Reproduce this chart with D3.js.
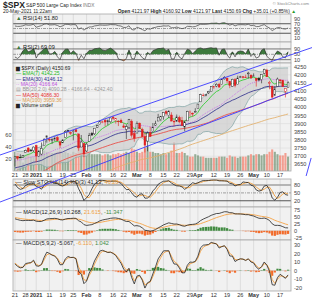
<!DOCTYPE html>
<html>
<head>
<meta charset="utf-8">
<script src="https://cdn.jsdelivr.net/npm/d3@7"></script>
<style>
  body { margin: 0; background: #fff; }
  svg { display: block; font-family: "Liberation Sans", Arial, sans-serif; }
</style>
</head>
<body>
<div id="chart"></div>
<script>
// closes before the visible window (used only to warm up the indicators)
const warmClose = [3258,3246,3271,
  3295,3306,3327,3349,3351,3360,3333,3380,3373,3372,3381,3389,3374,3385,3397,3431,3443,3479,3484,3508,3500,
  3527,3580,3455,3427,3332,3399,3339,3341,3383,3401,3385,3357,3320,3281,3316,3237,3247,3298,3351,3335,3363,
  3380,3348,3408,3361,3419,3446,3477,3535,3512,3489,3483,3484,3427,3443,3436,3453,3465,3401,3391,3271,3310,3270,
  3310,3370,3443,3510,3509,3550,3545,3573,3537,3585,3627,3610,3567,3582,3557,3578,3635,3629,3638,3622,
  3662,3669,3666,3699,3692,3702,3673,3668,3663,3647,3695,3702,3722,3709];

// visible daily bars, 21-Dec-2020 .. 20-May-2021
const open = [3684,3698,3693,3694,3723,3750,3736,3734,
  3765,3699,3713,3764,3815,3803,3801,3802,3814,3788,3782,3816,3857,3845,3851,3862,3837,3756,3778,
  3732,3791,3840,3837,3878,3893,3911,3920,3917,3911,3940,3919,3915,3921,3886,3865,3874,3915,3839,
  3842,3903,3864,3819,3793,3844,3851,3891,3916,3925,3943,3974,3949,3953,3914,3916,3937,3919,3879,3917,3970,3964,3967,
  3993,4034,4075,4074,4089,4096,4124,4131,4142,4140,4175,4180,4160,4129,4170,4139,4185,4188,4186,4206,4199,
  4192,4179,4178,4170,4210,4229,4151,4130,4075,4130,4169,4165,4099,4122];
const high = [3702,3698,3712,3703,3740,3756,3744,3760,
  3770,3738,3784,3811,3826,3817,3810,3820,3823,3796,3805,3860,3861,3852,3860,3871,3837,3830,3779,
  3785,3843,3848,3872,3894,3916,3918,3931,3925,3937,3950,3933,3921,3931,3902,3895,3929,3926,3862,
  3914,3906,3875,3843,3852,3881,3904,3918,3960,3944,3970,3982,3983,3970,3922,3956,3949,3942,3919,3979,3981,3969,3995,
  4021,4084,4086,4083,4098,4129,4131,4148,4151,4173,4192,4181,4160,4176,4180,4195,4194,4193,4201,4219,4199,
  4209,4179,4187,4202,4238,4237,4163,4134,4131,4183,4171,4170,4117,4161];
const low = [3636,3676,3689,3690,3723,3723,3730,3726,
  3663,3697,3706,3764,3783,3789,3776,3792,3792,3750,3781,3816,3845,3831,3797,3847,3733,3756,3694,
  3726,3791,3825,3830,3874,3892,3903,3884,3891,3905,3923,3900,3885,3904,3874,3805,3866,3814,3789,
  3842,3867,3818,3723,3730,3819,3851,3886,3916,3915,3924,3950,3935,3914,3885,3910,3902,3889,3853,3917,3943,3944,3966,
  3993,4034,4068,4068,4082,4095,4114,4124,4120,4140,4171,4150,4118,4126,4123,4139,4182,4177,4181,4176,4175,
  4188,4128,4160,4148,4202,4189,4111,4057,4069,4130,4143,4125,4061,4122];
const close = [3695,3687,3690,3703,3735,3727,3732,3756,
  3701,3727,3748,3804,3825,3800,3801,3810,3795,3768,3799,3852,3853,3841,3855,3850,3751,3787,3714,
  3774,3826,3830,3872,3887,3916,3911,3910,3916,3935,3933,3931,3914,3907,3877,3881,3925,3829,3811,
  3902,3870,3820,3768,3842,3821,3875,3899,3939,3943,3969,3963,3974,3916,3913,3941,3911,3889,3910,3975,3971,3959,3973,
  4020,4078,4074,4080,4097,4129,4128,4142,4125,4170,4185,4163,4135,4173,4135,4180,4188,4187,4183,4211,4181,
  4193,4165,4168,4202,4233,4188,4152,4063,4113,4174,4163,4128,4116,4151];
const volume = [32,30,26,14,26,28,24,24,
  32,28,34,34,32,30,30,30,32,34,30,32,30,28,32,30,40,36,38,
  34,30,28,28,28,28,26,28,28,26,28,28,30,28,30,32,30,38,36,
  32,30,32,38,42,32,32,30,30,28,30,28,30,34,48,30,30,32,30,26,24,24,28,
  26,24,24,22,22,22,22,22,24,24,24,22,26,24,24,22,24,24,24,26,28,
  26,28,28,26,28,28,32,36,32,28,26,26,30,24];

// x axis: bar index of each labelled Monday
const tickDays = [0,4,8,13,18,22,27,32,37,41,46,51,56,61,66,69,75,80,85,90,95,100];
const tickLabels = ["21","28","2021","11","19","25","Feb","8","16","22","Mar","8","15","22","29","Apr","12","19","26","May","10","17"];
const boldLabels = ["2021","Feb","Mar","Apr","May"];

const priceTicks = [4250,4200,4150,4100,4050,4000,3950,3900,3850,3800,3750,3700,3650];
const volTicks = [20,40,60];

// trend lines drawn on the price chart, in (bar index, price)
const trendLines = [
  {i0: -5.66, p0: 3707, i1: 112.1, p1: 4368},
  {i0: -5.66, p0: 3418, i1: 112.1, p1: 4145},
  {i0: 109.8, p0: 3578, i1: 111.7, p1: 3689}
];

const W = 312, H = 300;
const svg = d3.select("#chart").append("svg").attr("width", W).attr("height", H);

const X0 = 13, X1 = 291;
const x = d3.scaleLinear().domain([-0.75, 104.1]).range([X0, X1]);

// ---- indicators ----
const allClose = warmClose.concat(close);
const allHigh = warmClose.concat(high);
const allLow = warmClose.concat(low);
const off = warmClose.length;

function ema(arr, n) {
  const k = 2 / (n + 1);
  let e = arr[0];
  return arr.map((v, i) => (e = i === 0 ? v : v * k + e * (1 - k)));
}
function sma(arr, n) {
  return arr.map((v, i) => i < n - 1 ? null : d3.mean(arr.slice(i - n + 1, i + 1)));
}
function stdev(arr, n) {
  return arr.map((v, i) => {
    if (i < n - 1) return null;
    const s = arr.slice(i - n + 1, i + 1), m = d3.mean(s);
    return Math.sqrt(d3.mean(s, d => (d - m) * (d - m)));
  });
}
function rsi(arr, n) {
  let ag = 0, al = 0;
  return arr.map((v, i) => {
    if (i === 0) return 50;
    const ch = v - arr[i - 1];
    const g = Math.max(ch, 0), l = Math.max(-ch, 0);
    if (i <= n) { ag += g / n; al += l / n; }
    else { ag = (ag * (n - 1) + g) / n; al = (al * (n - 1) + l) / n; }
    return al === 0 ? 100 : 100 - 100 / (1 + ag / al);
  });
}
const vis = a => a.slice(off);

const ema7 = vis(ema(allClose, 7));
const ema30 = vis(ema(allClose, 30));
const ma20all = sma(allClose, 20), sd20 = stdev(allClose, 20);
const ma20 = vis(ma20all);
const bbUp = vis(ma20all.map((m, i) => m + 2 * sd20[i]));
const bbLo = vis(ma20all.map((m, i) => m - 2 * sd20[i]));
const ma50 = vis(sma(allClose, 50));
const ma100 = vis(sma(allClose, 100));
const rsi14 = vis(rsi(allClose, 14));
const rsi2 = vis(rsi(allClose, 2));

const rawK = allClose.map((c, i) => {
  const lo = d3.min(allLow.slice(Math.max(0, i - 13), i + 1));
  const hi = d3.max(allHigh.slice(Math.max(0, i - 13), i + 1));
  return hi === lo ? 50 : (c - lo) / (hi - lo) * 100;
});
const slowK = sma(rawK, 3);
const slowD = sma(slowK.map(v => v ?? 50), 3);
const stoK = vis(slowK), stoD = vis(slowD);

function macd(arr, a, b, s) {
  const ea = ema(arr, a), eb = ema(arr, b);
  const m = ea.map((v, i) => v - eb[i]);
  const sg = ema(m, s);
  return {m: vis(m), s: vis(sg), h: vis(m.map((v, i) => v - sg[i]))};
}
const macdA = macd(allClose, 12, 26, 9);
const macdB = macd(allClose, 5, 9, 2);

// ---- panels ----
const idx = d3.range(close.length);
let clipN = 0;
function panel(y0, y1) {
  const g = svg.append("g");
  g.append("rect").attr("x", X0).attr("y", y0).attr("width", X1 - X0).attr("height", y1 - y0)
    .attr("fill", "#f1f1f1");
  g.selectAll(".vg").data(tickDays).join("line")
    .attr("x1", d => x(d)).attr("x2", d => x(d)).attr("y1", y0).attr("y2", y1)
    .attr("stroke", "#d4d4d4").attr("stroke-width", 0.7);
  const id = "clip" + (clipN++);
  svg.append("clipPath").attr("id", id).append("rect")
    .attr("x", X0).attr("y", y0).attr("width", X1 - X0).attr("height", y1 - y0);
  const inner = svg.append("g").attr("clip-path", `url(#${id})`);
  return {g, inner, y0, y1};
}
function frame(p) {
  svg.append("rect").attr("x", X0).attr("y", p.y0).attr("width", X1 - X0).attr("height", p.y1 - p.y0)
    .attr("fill", "none").attr("stroke", "#a8a8a8").attr("stroke-width", 0.8);
}
function hline(p, y, v, style) {
  const l = p.inner.append("line").attr("x1", X0).attr("x2", X1).attr("y1", y(v)).attr("y2", y(v))
    .attr("stroke", style.color).attr("stroke-width", style.w);
  if (style.dash) l.attr("stroke-dasharray", style.dash);
}
function rightAxis(y, ticks, fmt) {
  svg.append("g").selectAll("text").data(ticks).join("text")
    .attr("x", X1 + 3).attr("y", d => y(d) + 2).attr("font-size", 5.6).attr("fill", "#444")
    .text(fmt || (d => d));
}
function line(p, data, y, color, w, dash) {
  const ln = d3.line().defined(d => data[d] != null).x(d => x(d)).y(d => y(data[d]));
  const path = p.inner.append("path").datum(idx).attr("d", ln).attr("fill", "none")
    .attr("stroke", color).attr("stroke-width", w).attr("stroke-linejoin", "round");
  if (dash) path.attr("stroke-dasharray", dash);
}
function label(px, py, parts) {
  const t = svg.append("text").attr("x", px).attr("y", py).attr("font-size", 5.6);
  parts.forEach(pt => t.append("tspan").attr("fill", pt.c || "#222").attr("font-weight", pt.b ? "bold" : null).text(pt.t));
  return t;
}

// ---- header ----
label(3, 7.8, [{t: "$SPX", b: 1}]).attr("font-size", 8.6);
label(26, 7, [{t: "S&P 500 Large Cap Index  "}, {t: "INDX", c: "#777"}]).attr("font-size", 4.8);
label(309, 5, [{t: "© StockCharts.com", c: "#888"}]).attr("font-size", 4.2).attr("text-anchor", "end");
label(3, 12.6, [{t: "20-May-2021 11:22am"}]).attr("font-size", 4.9);
label(296, 12.6, [
  {t: "Open", b: 1}, {t: " 4121.97  "}, {t: "High", b: 1}, {t: " 4160.92  "},
  {t: "Low", b: 1}, {t: " 4121.97  "}, {t: "Last", b: 1}, {t: " 4150.69  "},
  {t: "Chg", b: 1}, {t: " +35.01 (+0.85%) "}, {t: "▲", c: "#2a9a2a"}
]).attr("font-size", 4.9).attr("text-anchor", "end");

// ---- RSI(14) ----
const pR14 = panel(14, 42);
const yR14 = d3.scaleLinear().domain([0, 100]).range([40.4, 16.6]);
hline(pR14, yR14, 70, {color: "#555", w: 1});
hline(pR14, yR14, 30, {color: "#555", w: 1});
hline(pR14, yR14, 50, {color: "#666", w: 0.6, dash: "3,1,1,1"});
pR14.inner.append("path").datum(idx)
  .attr("d", d3.area().x(d => x(d)).y0(yR14(70)).y1(d => yR14(Math.max(70, rsi14[d]))))
  .attr("fill", "#3d7a3d");
line(pR14, rsi14, yR14, "#555", 0.8);
frame(pR14);
rightAxis(yR14, [90, 70, 50, 30, 10]);
label(16, 19.5, [{t: "▲", c: "#3a7a3a"}, {t: " RSI(14) 51.80"}]);

// ---- RSI(2) ----
const pR2 = panel(42, 63);
const yR2 = d3.scaleLinear().domain([0, 100]).range([61, 47.6]);
hline(pR2, yR2, 90, {color: "#555", w: 0.8});
hline(pR2, yR2, 10, {color: "#555", w: 0.8});
hline(pR2, yR2, 50, {color: "#666", w: 0.6, dash: "3,1,1,1"});
pR2.inner.append("path").datum(idx)
  .attr("d", d3.area().x(d => x(d)).y0(yR2(50)).y1(d => yR2(Math.max(50, rsi2[d]))))
  .attr("fill", "#3d7a3d");
pR2.inner.append("path").datum(idx)
  .attr("d", d3.area().x(d => x(d)).y0(yR2(10)).y1(d => yR2(Math.min(10, rsi2[d]))))
  .attr("fill", "#f07a30");
line(pR2, rsi2, yR2, "#333", 0.7);
frame(pR2);
rightAxis(yR2, [90, 50, 10]);
label(16, 48.5, [{t: "▲", c: "#3a7a3a"}, {t: " RSI(2) 69.09"}]);

// ---- price ----
const pP = panel(63, 171);
const yP = d3.scaleLinear().domain([3650, 4250]).range([164.3, 66.7]);
const yV = d3.scaleLinear().domain([0, 60]).range([171, 135]);
pP.inner.selectAll(".hg").data(priceTicks).join("line")
  .attr("x1", X0).attr("x2", X1).attr("y1", d => yP(d)).attr("y2", d => yP(d))
  .attr("stroke", "#dcdcdc").attr("stroke-width", 0.6);
pP.inner.selectAll(".vol").data(idx).join("rect")
  .attr("x", d => x(d) - 1.05).attr("width", 2.1)
  .attr("y", d => yV(volume[d])).attr("height", d => yV(0) - yV(volume[d]))
  .attr("fill", d => d > 0 && close[d] < close[d - 1] ? "#f48a78" : "#7f9c7f")
  .attr("opacity", 0.8);
pP.inner.append("path").datum(idx)
  .attr("d", d3.area().x(d => x(d)).y0(d => yP(bbLo[d])).y1(d => yP(bbUp[d])))
  .attr("fill", "#cfcfcf").attr("opacity", 0.75);
line(pP, bbUp, yP, "#7fa3a3", 0.7);
line(pP, bbLo, yP, "#7fa3a3", 0.7);
line(pP, ma100, yP, "#e3b270", 0.9);
line(pP, ma50, yP, "#e8504a", 0.9);
line(pP, ma20, yP, "#c86ee8", 0.9, "1,1");
line(pP, ema30, yP, "#2a2a8a", 0.8);
line(pP, ema7, yP, "#22cc22", 0.8);

const cColor = d => d > 0 && close[d] < close[d - 1] ? "#e02020" : "#222";
pP.inner.selectAll(".wick").data(idx).join("line")
  .attr("x1", d => x(d)).attr("x2", d => x(d))
  .attr("y1", d => yP(high[d])).attr("y2", d => yP(low[d]))
  .attr("stroke", cColor).attr("stroke-width", 0.6);
pP.inner.selectAll(".body").data(idx).join("rect")
  .attr("x", d => x(d) - 0.9).attr("width", 1.8)
  .attr("y", d => yP(Math.max(open[d], close[d])))
  .attr("height", d => Math.max(0.6, Math.abs(yP(open[d]) - yP(close[d]))))
  .attr("fill", d => close[d] >= open[d] ? "#fff" : cColor(d))
  .attr("stroke", cColor).attr("stroke-width", 0.45);
frame(pP);
rightAxis(yP, priceTicks);
svg.append("g").selectAll("text").data(volTicks).join("text")
  .attr("x", X0 - 1.5).attr("y", d => yV(d) + 2).attr("text-anchor", "end")
  .attr("font-size", 5.6).attr("fill", "#444").text(d => d);

const legend = [
  {t: "$SPX (Daily) 4150.69", c: "#222", m: "▆"},
  {t: "EMA(7) 4142.25", c: "#22bb22", m: "—"},
  {t: "EMA(30) 4146.12", c: "#2a2a8a", m: "—"},
  {t: "MA(20) 4166.64", c: "#c050e0", m: "··"},
  {t: "BB(20,2.0) 4090.28 - 4166.64 - 4242.40", c: "#999", m: "▤"},
  {t: "MA(50) 4086.30", c: "#e83030", m: "—"},
  {t: "MA(100) 3959.36", c: "#e0a050", m: "—"},
  {t: "Volume undef", c: "#222", m: "▆"}
];
legend.forEach((l, k) => label(16, 70 + k * 5.3, [{t: l.m + " ", c: l.c}, {t: l.t, c: l.c}]).attr("font-size", 5.1));

// ---- date axis ----
function dateAxis(yy) {
  svg.append("g").selectAll("text").data(tickDays).join("text")
    .attr("x", d => x(d)).attr("y", yy).attr("text-anchor", "middle").attr("font-size", 5.6)
    .attr("fill", "#333")
    .attr("font-weight", (d, k) => boldLabels.includes(tickLabels[k]) ? "bold" : null)
    .text((d, k) => tickLabels[k]);
}
dateAxis(176.8);

// ---- Slow STO ----
const pS = panel(179, 207);
const yS = d3.scaleLinear().domain([0, 100]).range([206, 179.8]);
hline(pS, yS, 80, {color: "#a0a0a0", w: 1.6});
hline(pS, yS, 20, {color: "#444", w: 0.9});
hline(pS, yS, 50, {color: "#666", w: 0.6, dash: "3,1,1,1"});
line(pS, stoD, yS, "#f0a040", 0.9);
line(pS, stoK, yS, "#222", 0.8);
frame(pS);
rightAxis(yS, [80, 50, 20]);
label(16, 183.5, [{t: "— ", c: "#222"}, {t: "Slow STO %K(14) %D(3) 41.13, "}, {t: "46.28", c: "#f0a040"}]);

// ---- MACD(12,26,9) ----
const pM1 = panel(207, 240);
const yM1 = d3.scaleLinear().domain([-25, 75]).range([237.7, 210]);
function macdPanel(p, y, m) {
  hline(p, y, 0, {color: "#c8c8c8", w: 0.6});
  p.inner.selectAll(".h").data(idx).join("rect")
    .attr("x", d => x(d) - 1.1).attr("width", 2.2)
    .attr("y", d => y(Math.max(0, m.h[d]))).attr("height", d => Math.abs(y(m.h[d]) - y(0)))
    .attr("fill", d => m.h[d] >= 0 ? "#3f8a3f" : "#f26b2a");
  line(p, m.s, y, "#f5a345", 0.9);
  line(p, m.m, y, "#222", 0.8);
  frame(p);
}
macdPanel(pM1, yM1, macdA);
rightAxis(yM1, [75, 50, 25, 0, -25]);
label(16, 213.5, [{t: "— ", c: "#222"}, {t: "MACD(12,26,9) 10.268, "}, {t: "21.615", c: "#f0a040"}, {t: ", "}, {t: "-11.347", c: "#3f8a3f"}]);

// ---- MACD(5,9,2) ----
const pM2 = panel(240, 291);
const yM2 = d3.scaleLinear().domain([-20, 30]).range([287.7, 245]);
macdPanel(pM2, yM2, macdB);
rightAxis(yM2, [30, 20, 10, 0, -10, -20]);
label(16, 244.5, [{t: "— ", c: "#222"}, {t: "MACD(5,9,2) -5.067, "}, {t: "-6.110", c: "#f0a040"}, {t: ", "}, {t: "1.042", c: "#3f8a3f"}]);
dateAxis(297);

// ---- trend lines over everything ----
svg.append("g").selectAll("line").data(trendLines).join("line")
  .attr("x1", d => x(d.i0)).attr("y1", d => yP(d.p0))
  .attr("x2", d => x(d.i1)).attr("y2", d => yP(d.p1))
  .attr("stroke", "#3a3aff").attr("stroke-width", 0.9);
</script>
</body>
</html>
